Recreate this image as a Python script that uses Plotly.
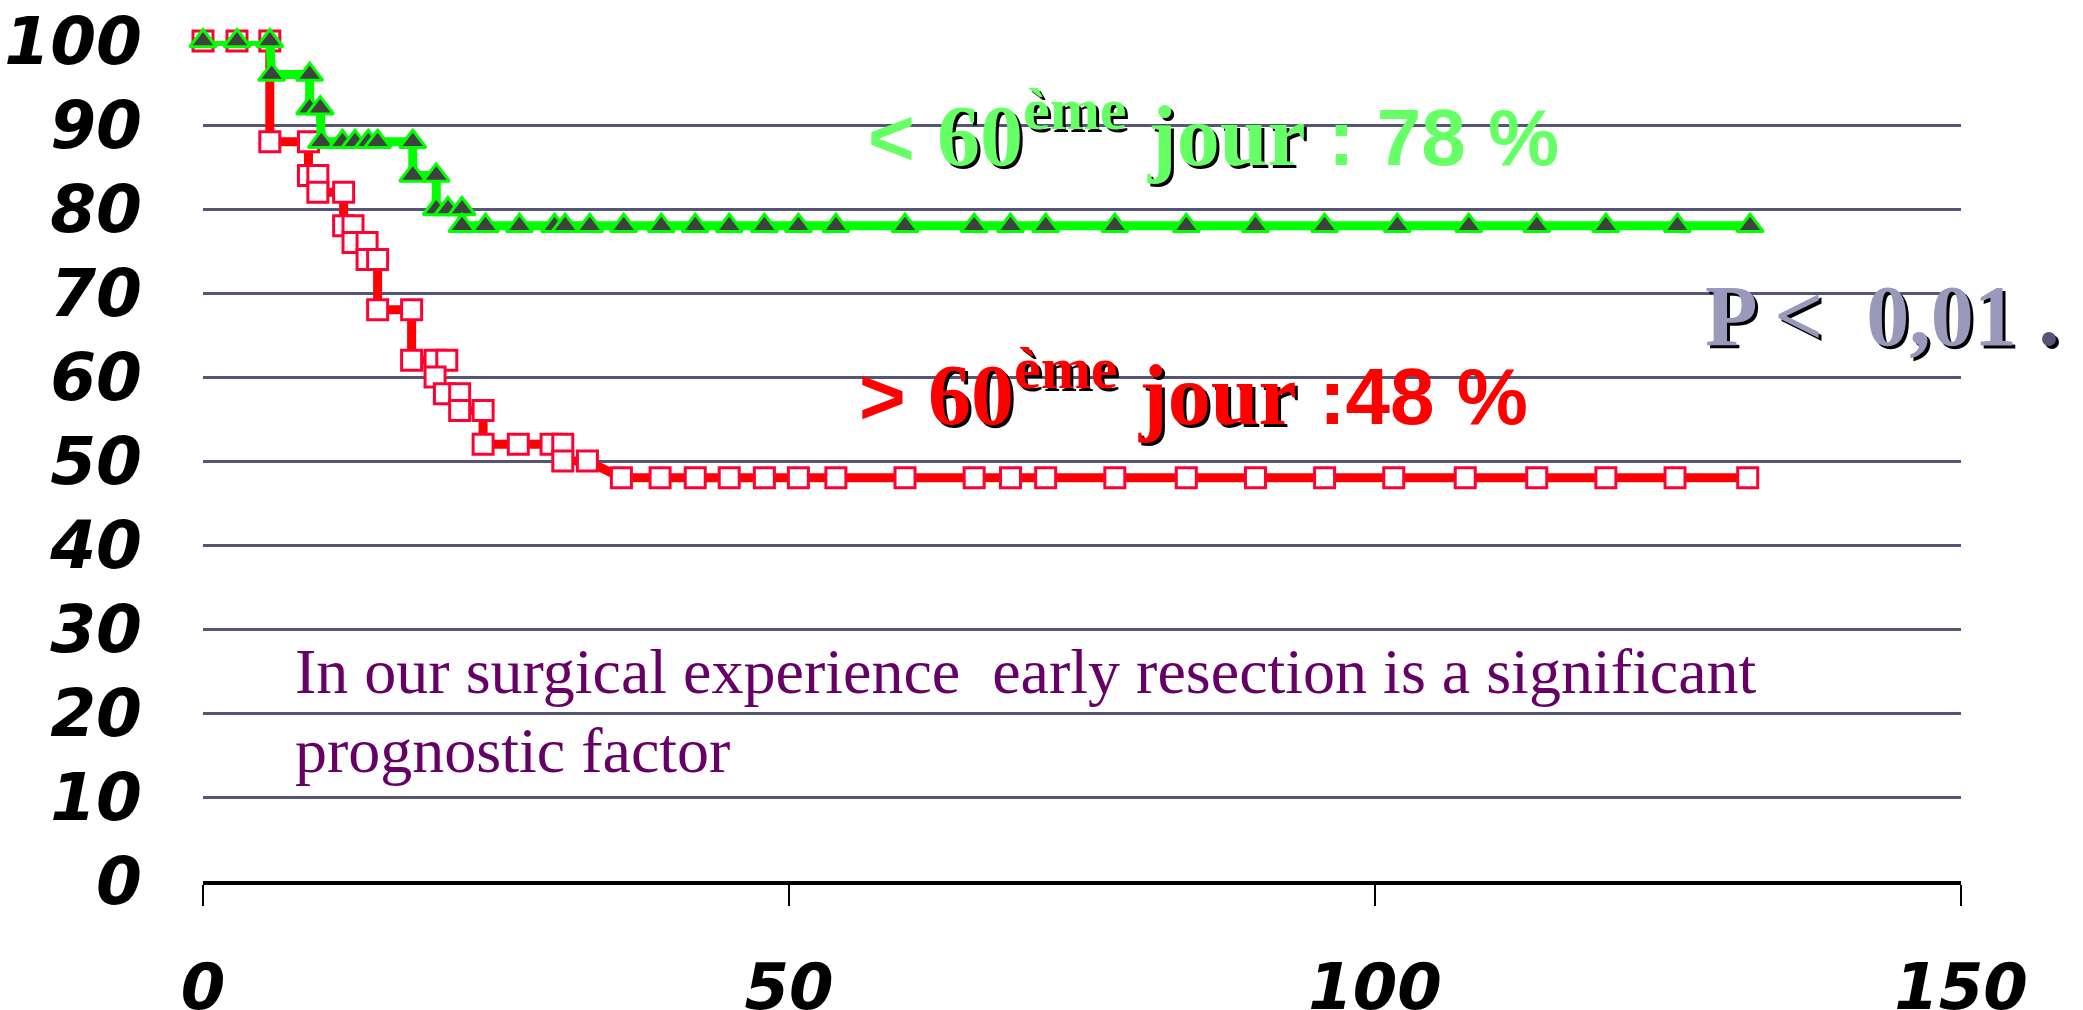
import plotly.graph_objects as go

# ---- data ----
green_days = [0, 2.9, 5.7, 5.86, 9.1, 9.1, 10.0, 10.1, 11.9, 12.97, 14.1, 14.9, 17.9, 17.9, 19.9, 19.9,
              20.9, 22.1, 22.1, 24.1, 27.0, 30.0, 30.9, 33.0, 35.9, 39.1, 42.0, 44.9, 47.9, 50.8, 54.0,
              59.9, 65.8, 68.9, 71.9, 77.8, 83.9, 89.8, 95.7, 101.9, 108.0, 113.8, 119.7, 125.8, 132.0]
green_surv = [100, 100, 100, 96, 96, 92, 92, 88, 88, 88, 88, 88, 88, 84, 84, 80,
              80, 80, 78, 78, 78, 78, 78, 78, 78, 78, 78, 78, 78, 78, 78,
              78, 78, 78, 78, 78, 78, 78, 78, 78, 78, 78, 78, 78, 78]

red_days = [0, 2.9, 5.7, 5.7, 9.0, 9.0, 9.8, 9.8, 12.0, 12.0, 12.8, 12.8, 14.0, 14.0, 14.9, 14.9,
            17.8, 17.8, 19.8, 20.8, 19.8, 20.6, 21.9, 21.9, 23.9, 23.9, 26.9, 29.7, 30.7, 30.7, 32.8,
            35.7, 39.0, 42.0, 44.9, 47.9, 50.8, 54.0, 59.9, 65.8, 68.9, 71.9, 77.8, 83.9, 89.8, 95.7,
            101.6, 107.7, 113.8, 119.7, 125.6, 131.8]
red_surv = [100, 100, 100, 88, 88, 84, 84, 82, 82, 78, 78, 76, 76, 74, 74, 68,
            68, 62, 62, 62, 60, 58, 58, 56, 56, 52, 52, 52, 52, 50, 50,
            48, 48, 48, 48, 48, 48, 48, 48, 48, 48, 48, 48, 48, 48, 48,
            48, 48, 48, 48, 48, 48]

x_ticks = [0, 50, 100, 150]
x_ticktext = ["0", "50", "100", "150"]
y_ticks = [0, 10, 20, 30, 40, 50, 60, 70, 80, 90, 100]
y_ticktext = ["0", "10", "20", "30", "40", "50", "60", "70", "80", "90", "100"]

label_green = ("< ", "60", "ème", " jour", " : 78 %")
label_red = ("> ", "60", "ème", " jour", " :48 %")
label_p = "P <  0,01 "
note_lines = ["In our surgical experience  early resection is a significant", "prognostic factor"]

SANS = "Liberation Sans"
SERIF = "Liberation Serif"
YTICKFONT = dict(family="DejaVu Sans", size=66, color="black", weight="bold", style="italic")
XTICKFONT = dict(family="DejaVu Sans", size=64, color="black", weight="bold", style="italic")

fig = go.Figure()
fig.add_trace(go.Scatter(
    x=red_days, y=red_surv, mode="lines+markers", cliponaxis=False,
    line=dict(color="#FF0000", width=9),
    marker=dict(symbol="square", size=20, color="white", line=dict(color="#FF0033", width=3)),
    showlegend=False))
fig.add_trace(go.Scatter(
    x=green_days, y=green_surv, mode="lines+markers", cliponaxis=False,
    line=dict(color="#00FF00", width=9),
    marker=dict(symbol="triangle-up", size=23, color="#404040", line=dict(color="#00FF00", width=3)),
    showlegend=False))


def big_label(parts, color, shadow):
    lt, num, sup, word, tail = parts
    lt = lt.replace("<", "&lt;").replace(">", "&gt;")
    c_sans = "rgba(0,0,0,0)" if shadow else color
    c_serif = "black" if shadow else color
    return (f'<span style="font-family:{SANS};font-size:80px;fill:{c_sans}">{lt}</span>'
            f'<span style="font-family:{SERIF};font-size:86px;fill:{c_serif}">{num}<sup>{sup}</sup>{word}</span>'
            f'<span style="font-family:{SANS};font-size:80px;fill:{c_sans}">{tail}</span>')


annotations = []
for parts, color, x, y in [(label_green, "#66FF66", 56.6, 89.5), (label_red, "#FF0000", 55.8, 58.6)]:
    for shadow in (True, False):
        annotations.append(dict(
            x=x, y=y, xref="x", yref="y", xanchor="left", yanchor="middle", showarrow=False,
            text=big_label(parts, color, shadow),
            xshift=3 if shadow else 0, yshift=-3 if shadow else 0,
            font=dict(family=SERIF, size=86, color="black" if shadow else color, weight="bold")))

for shadow in (True, False):
    ptxt = label_p.replace("<", "&lt;")
    dot_color = "black" if shadow else "#555577"
    annotations.append(dict(
        x=128.0, y=67.3, xref="x", yref="y", xanchor="left", yanchor="middle", showarrow=False,
        text=f'{ptxt}<span style="fill:{dot_color}">.</span>',
        xshift=3 if shadow else 0, yshift=-3 if shadow else 0,
        font=dict(family=SERIF, size=86, color="black" if shadow else "#9999BB", weight="bold")))

for line, y in zip(note_lines, [25.0, 15.5]):
    annotations.append(dict(
        x=7.7, y=y, xref="x", yref="y", xanchor="left", yanchor="middle", showarrow=False,
        text=line, font=dict(family=SERIF, size=64, color="#660066")))

fig.update_layout(
    width=2083, height=1010,
    margin=dict(l=203, r=122, t=41, b=129, pad=0, autoexpand=False),
    plot_bgcolor="white", paper_bgcolor="white",
    annotations=annotations,
    xaxis=dict(range=[0, 150], tickvals=x_ticks, ticktext=x_ticktext, showgrid=False, zeroline=False,
               showline=True, linecolor="black", linewidth=4, ticks="outside", ticklen=21, tickwidth=2,
               tickcolor="black", tickfont=XTICKFONT, ticklabelstandoff=26, automargin=False),
    yaxis=dict(range=[0, 100], tickvals=y_ticks, ticktext=y_ticktext, showgrid=True,
               gridcolor="#555577", gridwidth=2.5, zeroline=False, showline=False, ticks="",
               tickfont=YTICKFONT, ticklabelstandoff=60, automargin=False),
)

fig.write_html("out.html", config={"displayModeBar": False},
               post_script="document.body.style.margin='0';document.body.style.overflow='hidden';")
